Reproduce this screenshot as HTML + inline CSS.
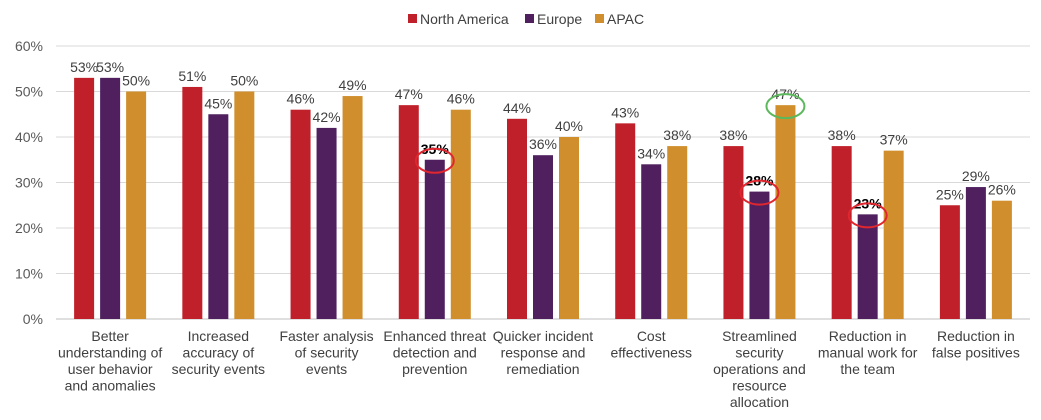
<!DOCTYPE html>
<html><head><meta charset="utf-8"><style>
html,body{margin:0;padding:0;background:#fff;}
svg{display:block;font-family:"Liberation Sans",Arial,sans-serif;}
</style></head><body>
<svg id="chart" width="1041" height="420" viewBox="0 0 1041 420">
<g id="legend">
  <g><rect x="408" y="14" width="9" height="9" fill="#c0202a"/><text x="420" y="24" font-size="14" fill="#404040">North America</text></g>
  <g><rect x="525" y="14" width="9" height="9" fill="#4f1f5e"/><text x="537" y="24" font-size="14" fill="#404040">Europe</text></g>
  <g><rect x="595" y="14" width="9" height="9" fill="#d08f2c"/><text x="607" y="24" font-size="14" fill="#404040">APAC</text></g>
</g>
<g id="grid"></g>
<g id="yaxis"></g>
<g id="bars"></g>
<g id="labels"></g>
<g id="xaxis"></g>
<g id="marks"></g>
</svg>
<script>
const categories = [
  ["Better","understanding of","user behavior","and anomalies"],
  ["Increased","accuracy of","security events"],
  ["Faster analysis","of security","events"],
  ["Enhanced threat","detection and","prevention"],
  ["Quicker incident","response and","remediation"],
  ["Cost","effectiveness"],
  ["Streamlined","security","operations and","resource","allocation"],
  ["Reduction in","manual work for","the team"],
  ["Reduction in","false positives"]
];
const northAmerica = [53,51,46,47,44,43,38,38,25];
const europe = [53,45,42,35,36,34,28,23,29];
const apac = [50,50,49,46,40,38,47,37,26];
const yTicks = [0,10,20,30,40,50,60];
const highlights = [[3,1,"#e0262e"],[6,1,"#e0262e"],[7,1,"#e0262e"],[6,2,"#5cb85c"]];

const NS="http://www.w3.org/2000/svg";
const X0=56,X1=1030,Y0=319,YTOP=46,YMAX=60;
const catW=(X1-X0)/categories.length;
const y=v=>Y0-(v/YMAX)*(Y0-YTOP);
const cx=i=>X0+catW*(i+0.5);
const series=[northAmerica,europe,apac];
const colors=["#c0202a","#4f1f5e","#d08f2c"];
const sNames=["north-america","europe","apac"];
const BW=20,PITCH=26;
const bx=(i,s)=>cx(i)+(s-1)*PITCH-BW/2;
function mk(tag,attrs,parent){const e=document.createElementNS(NS,tag);for(const k in attrs)e.setAttribute(k,attrs[k]);parent.appendChild(e);return e;}
const grid=document.getElementById('grid'),ya=document.getElementById('yaxis'),bars=document.getElementById('bars'),labels=document.getElementById('labels'),xa=document.getElementById('xaxis'),marks=document.getElementById('marks');
yTicks.forEach(t=>{
  const l=mk('line',{x1:X0,x2:X1,y1:y(t),y2:y(t),stroke:t===0?'#bfbfbf':'#d9d9d9','stroke-width':1},grid);
  
  
  const tx=mk('text',{x:43,y:y(t)+5,'text-anchor':'end','font-size':14,fill:'#595959'},ya);
  tx.textContent=t+'%';
  
  
});
const bold={};highlights.forEach(h=>{if(h[2]!=="#5cb85c")bold[h[0]+'-'+h[1]]=1;});
categories.forEach((c,i)=>{
  series.forEach((arr,s)=>{
    const v=arr[i];
    const r=mk('rect',{x:bx(i,s),y:y(v),width:BW,height:Y0-y(v),fill:colors[s]},bars);
    
    
    const isB=bold[i+'-'+s];
    const t=mk('text',{x:bx(i,s)+BW/2,y:y(v)-6,'text-anchor':'middle','font-size':14,fill:isB?'#000':'#404040','font-weight':isB?'bold':'normal'},labels);
    t.textContent=v+'%';
    
    
  });
  const g=mk('text',{'text-anchor':'middle','font-size':14,fill:'#404040'},xa);
  
  
  c.forEach((line,k)=>{const ts=mk('tspan',{x:cx(i),y:341+k*16.5},g);ts.textContent=line;});
});
highlights.forEach(h=>{
  const [i,s,col]=h;const v=series[s][i];
  const e=mk('ellipse',{cx:bx(i,s)+BW/2,cy:y(v)+1,rx:19,ry:12,fill:'none',stroke:col,'stroke-width':2},marks);
  
  
});
</script>
</body></html>
